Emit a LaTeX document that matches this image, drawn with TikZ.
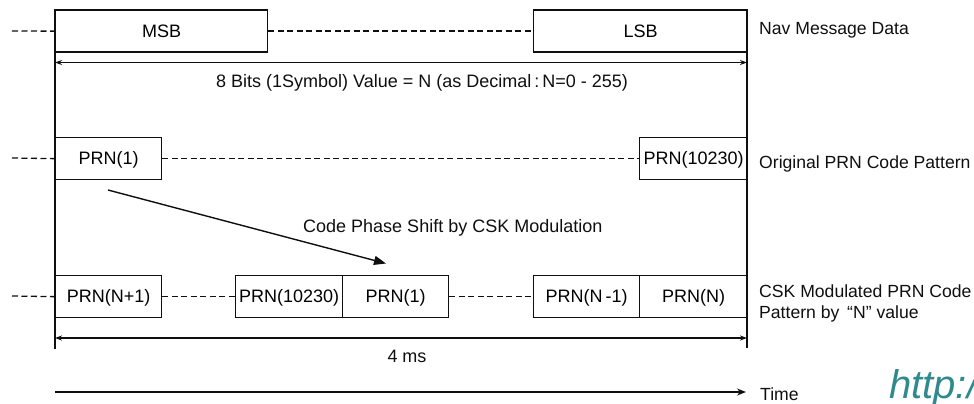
\documentclass[tikz,border=0pt]{standalone}
\usepackage{fontspec}
\setmainfont{Liberation Sans}
\usetikzlibrary{arrows.meta}
\definecolor{wmteal}{RGB}{46,138,140}
\definecolor{ink}{RGB}{15,15,15}
\begin{document}
\begin{tikzpicture}[x=1pt,y=-1pt,
  font=\fontsize{18}{21}\selectfont,
  cell/.style={draw=ink, line width=1.3pt, inner sep=0pt, anchor=north west,
    minimum height=42pt, text height=12.5pt, text depth=0pt},
  dashline/.style={draw=ink, line width=1.3pt, dash pattern=on 6pt off 3.5pt},
  rail/.style={draw=ink, line width=1.3pt},
  span/.style={draw=ink, line width=1.3pt, {Stealth[length=7pt,width=5pt]}-{Stealth[length=7pt,width=5pt]}},
  lbl/.style={anchor=base west, inner sep=0pt, text=ink},
  caption/.style={lbl, font=\fontsize{17.6}{21}\selectfont}]
\useasboundingbox (0,0) rectangle (974,404);

% --- row 1: navigation message symbol
\node[cell, minimum width=212pt] (msb) at (55,9.5) {MSB};
\node[cell, minimum width=214pt] (lsb) at (533,9.5) {LSB};
\coordinate (d1) at (12,31);
\draw[dashline] (d1) -- (msb.west);
\draw[dashline] (msb.east) -- (lsb.west);

% symbol boundaries
\coordinate (topL) at (55,9.5);
\coordinate (botL) at (55,349);
\coordinate (topR) at (747,9.5);
\coordinate (botR) at (747,348);
\draw[rail] (topL) -- (botL);
\draw[rail] (topR) -- (botR);

% 8-bit span
\coordinate (s1a) at (55,62.5);
\coordinate (s1b) at (747,62.5);
\draw[span] (s1a) -- (s1b);
\node[lbl, anchor=base] (bits) at (422,88) {8 Bits (1Symbol) Value = N (as Decimal\,:\,N=0 - 255)};

% --- row 2: original PRN code
\node[cell, minimum width=106pt] (p1) at (55,137) {PRN(1)};
\node[cell, minimum width=108pt] (p10230) at (639,137) {PRN(10230)};
\coordinate (d2) at (12,158);
\draw[dashline] (d2) -- (p1.west);
\draw[dashline] (p1.east) -- (p10230.west);

% phase shift arrow
\coordinate (sh0) at (108,190);
\coordinate (sh1) at (386,263.5);
\draw[draw=ink, line width=1.4pt, -{Triangle[length=12pt,width=9pt]}] (sh0) -- (sh1);
\node[lbl] (shift) at (303,232) {Code Phase Shift by CSK Modulation};

% --- row 3: CSK modulated PRN code
\node[cell, minimum width=106pt] (qn1) at (55,275) {PRN(N+1)};
\node[cell, minimum width=107pt] (q10230) at (235,275) {PRN(10230)};
\node[cell, minimum width=106pt] (q1) at (342,275) {PRN(1)};
\node[cell, minimum width=106pt] (qnm1) at (533,275) {PRN(N\,-1)};
\node[cell, minimum width=108pt] (qn) at (639,275) {PRN(N)};
\coordinate (d3) at (12,296);
\draw[dashline] (d3) -- (qn1.west);
\draw[dashline] (qn1.east) -- (q10230.west);
\draw[dashline] (q1.east) -- (qnm1.west);

% 4 ms span
\coordinate (s2a) at (55,338);
\coordinate (s2b) at (747,338);
\draw[span] (s2a) -- (s2b);
\node[lbl, anchor=base] (ms) at (407,362.5) {4 ms};

% time axis
\coordinate (t0) at (55,392);
\coordinate (t1) at (746,392);
\draw[draw=ink, line width=1.3pt, -{Stealth[length=9pt,width=7pt]}] (t0) -- (t1);

% right-hand captions
\node[caption] (navlbl) at (759,35) {Nav Message Data};
\node[caption] (orglbl) at (759,168) {Original PRN Code Pattern};
\node[caption] (csklbl) at (759,297) {CSK Modulated PRN Code};
\node[caption] (patlbl) at (759,318.5) {Pattern by\, “N” value};
\node[caption] (timelbl) at (760,400.5) {Time};

% site mark
\node[lbl, text=wmteal, font=\fontsize{40}{40}\selectfont\itshape] (mark) at (889,398) {http:/};
\end{tikzpicture}
\end{document}
